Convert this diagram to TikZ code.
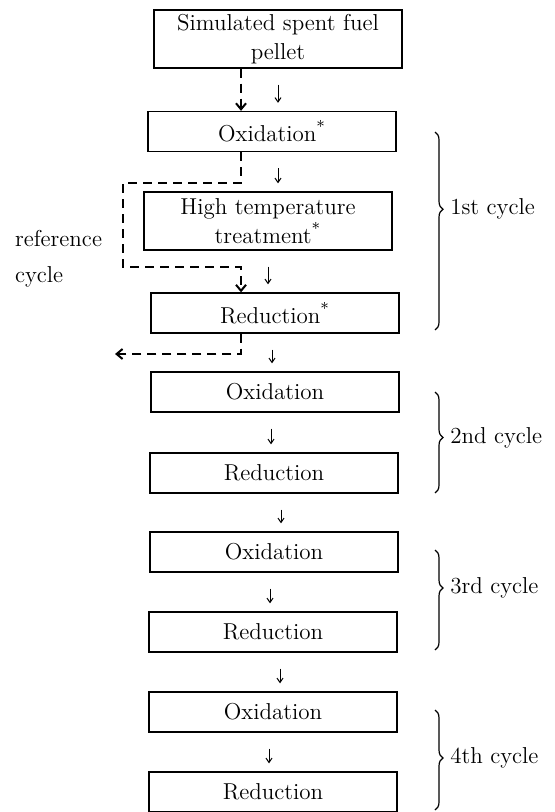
\documentclass[tikz,border=0pt]{standalone}
\usepackage{tikz}
\usetikzlibrary{arrows.meta, decorations.pathreplacing}

\begin{document}
\begin{tikzpicture}[x=0.5pt, y=-0.5pt,
    font=\fontsize{11.5}{14.5}\selectfont,
    stepbox/.style={draw, line width=0.65pt, minimum width=124pt, minimum height=20pt, inner sep=2pt, align=center},
    tallbox/.style={stepbox, minimum height=29pt},
    flow/.style={-{Straight Barb[length=2.2pt, width=3pt]}, line width=0.5pt, shorten <=8pt, shorten >=4pt},
    refline/.style={line width=1pt, dash pattern=on 4.5pt off 3pt, -{Straight Barb[length=3pt, width=5pt]}},
    cyclebrace/.style={decorate, decoration={brace, amplitude=4pt, aspect=#1}, line width=0.6pt},
]
    \useasboundingbox (0, 0) rectangle (555, 812);
    % Process boxes
    \node[tallbox] (pellet) at (278, 39) {Simulated spent fuel\\pellet};
    \node[stepbox] (oxA) at (272, 131.5) {Oxidation\textsuperscript{*}};
    \node[tallbox] (heat) at (268, 221) {High temperature\\treatment\textsuperscript{*}};
    \node[stepbox] (redA) at (275, 313) {Reduction\textsuperscript{*}};
    \node[stepbox] (ox2) at (275, 392) {Oxidation};
    \node[stepbox] (red2) at (274, 473) {Reduction};
    \node[stepbox] (ox3) at (274, 552) {Oxidation};
    \node[stepbox] (red3) at (273, 632) {Reduction};
    \node[stepbox] (ox4) at (273, 712) {Oxidation};
    \node[stepbox] (red4) at (273, 792) {Reduction};
    % Small flow arrows between the boxes
    \foreach \from/\to/\dx in {pellet/oxA/0, oxA/heat/3, heat/redA/0, redA/ox2/-1.5,
            ox2/red2/-2, red2/ox3/3.5, ox3/red3/-2, red3/ox4/3.5, ox4/red4/-2}
        \draw[flow] ([xshift=\dx pt]\from.south) -- ([xshift=\dx pt]\from.south |- \to.north);
    % Reference cycle (dashed)
    \coordinate (rx) at (241, 0);
    \coordinate (loopTop) at (123, 183);
    \coordinate (loopBot) at (123, 267);
    \coordinate (exit) at (115, 354);
    \draw[refline] (pellet.south -| rx) -- (oxA.north -| rx);
    \draw[refline] (oxA.south -| rx)
        -- (loopTop -| rx)
        -- (loopTop)
        -- (loopBot)
        -- (loopBot -| rx)
        -- (redA.north -| rx);
    \draw[refline] (redA.south -| rx) |- (exit);
    \node[anchor=west] (refA) at (8, 239) {reference};
    \node[anchor=west] (refB) at (8, 277) {cycle};
    % Cycle braces
    \foreach \top/\bot/\asp/\lbl/\name in {132/330/0.39/1st/c1, 392/493/0.45/2nd/c2,
            550/650/0.38/3rd/c3, 710/810/0.48/4th/c4}
        \draw[cyclebrace=\asp] (435, \top) -- (435, \bot)
            node[pos=\asp, right=4pt] (\name) {\lbl{} cycle};
\end{tikzpicture}
\end{document}
